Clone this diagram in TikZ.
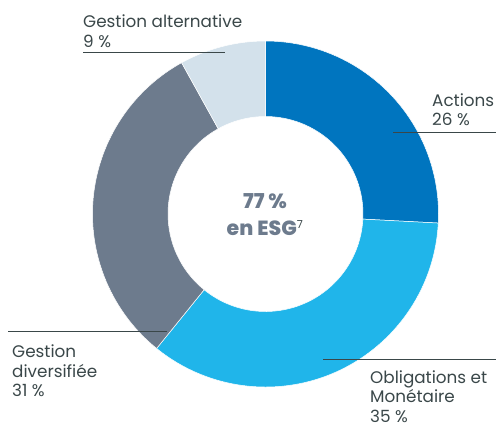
\documentclass[tikz,border=0pt]{standalone}
\usepackage{fontspec}
\setmainfont{Poppins}
\newfontfamily\heavy{Poppins ExtraBold}
\newfontfamily\plainp{Poppins}
\definecolor{cA}{HTML}{0075BF}
\definecolor{cB}{HTML}{20B5EA}
\definecolor{cC}{HTML}{6D7B8D}
\definecolor{cD}{HTML}{D3E1EB}
\definecolor{txt}{HTML}{3A4749}
\tikzset{lab/.style={font=\fontsize{16.8}{19.5}\selectfont,text=txt,align=left,inner sep=0pt,anchor=north west},
 lead/.style={draw=txt,line width=0.7pt},
 seg/.style={draw=white,line width=0.5pt}}
\begin{document}
\begin{tikzpicture}[x=1pt,y=-1pt]
\useasboundingbox (0,0) rectangle (496,424);
\def\cx{265.5}\def\cy{214}\def\R{173}\def\r{97.5}
\def\segm#1#2#3{\fill[#3,seg] ({\cx+\R*sin(#1)},{\cy-\R*cos(#1)}) arc[start angle={#1-90},end angle={#2-90},radius=\R,y radius=\R] -- ({\cx+\r*sin(#2)},{\cy-\r*cos(#2)}) arc[start angle={#2-90},end angle={#1-90},radius=\r] -- cycle;}
\segm{0}{93}{cA}
\segm{93}{219}{cB}
\segm{219}{331}{cC}
\segm{331}{360}{cD}
\coordinate (a1) at (393,132); \coordinate (a2) at (496,132);
\coordinate (b1) at (323,359); \coordinate (b2) at (496,359);
\coordinate (c1) at (8,331); \coordinate (c2) at (167,331);
\coordinate (d1) at (83,52); \coordinate (d2) at (225,52);
\draw[lead] (a1)--(a2); \draw[lead] (b1)--(b2); \draw[lead] (c1)--(c2); \draw[lead] (d1)--(d2);
\node[lab] (la) at (432,93.5) {Actions\\26 \%};
\node[lab] (lb) at (370,370.5) {Obligations et\\Monétaire\\35 \%};
\node[lab] (lc) at (12,345) {Gestion\\diversifiée\\31 \%};
\node[lab] (ld) at (83,15) {Gestion alternative\\9 \%};
\node[font=\fontsize{20.5}{27}\selectfont\heavy,text=cC,align=center,inner sep=0pt] (ctr) at (265,215) {77 \%\\en ESG\textsuperscript{\fontsize{11}{11}\selectfont\plainp\color{txt} 7}};
\end{tikzpicture}
\end{document}
